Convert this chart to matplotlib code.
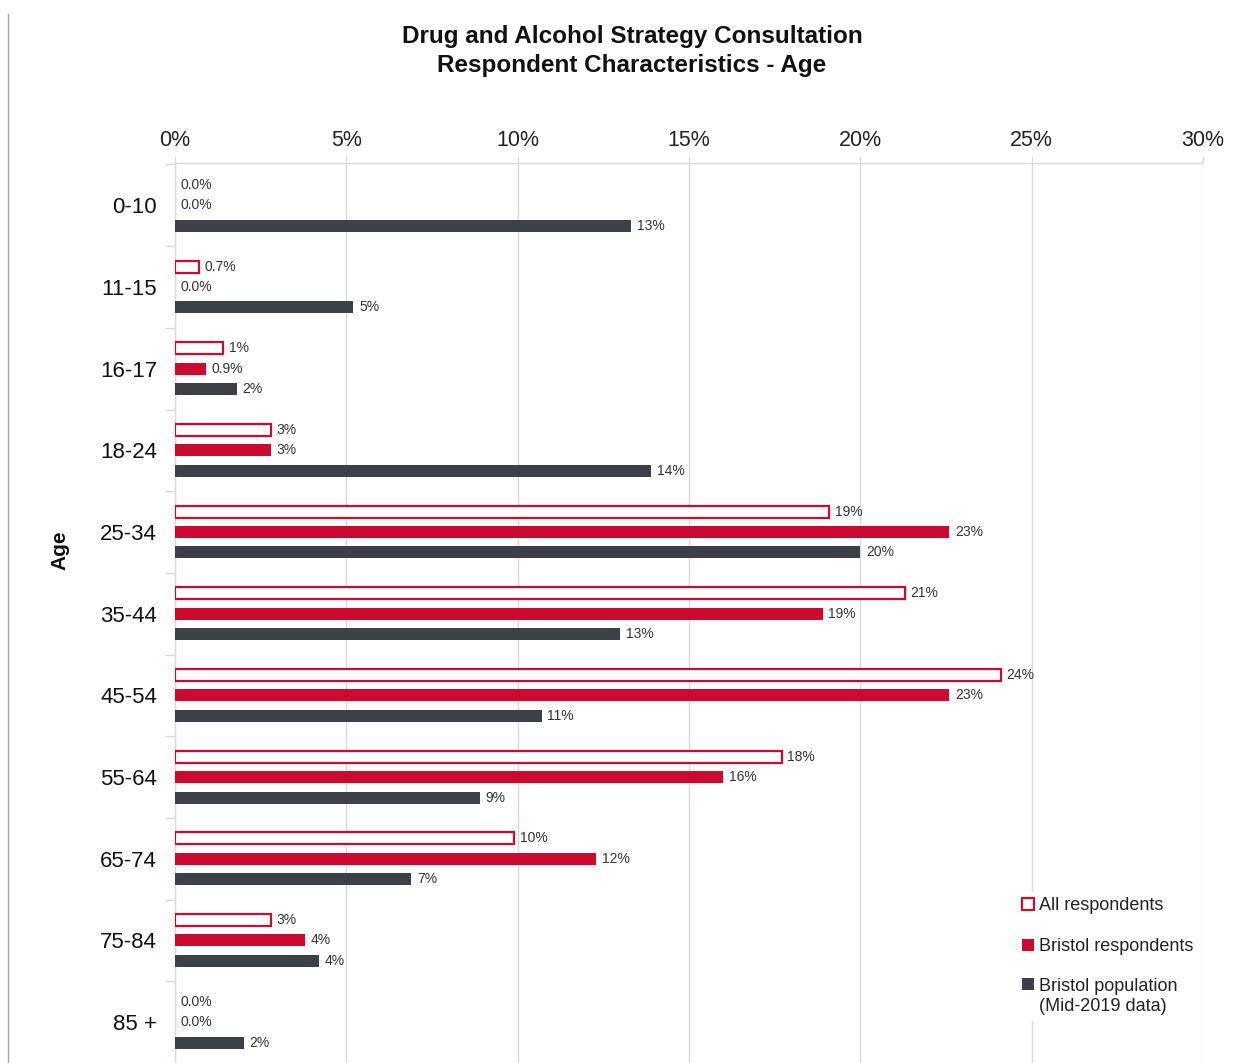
import matplotlib.pyplot as plt
from matplotlib.patches import Patch, Rectangle
from matplotlib.legend_handler import HandlerPatch
from matplotlib.lines import Line2D
import numpy as np

plt.rcParams['font.family'] = ['Liberation Sans', 'DejaVu Sans']

# Age groups and share of respondents / population (%)
age_groups = ['0-10', '11-15', '16-17', '18-24', '25-34', '35-44',
              '45-54', '55-64', '65-74', '75-84', '85 +']
all_respondents = [0.0, 0.7, 1.4, 2.8, 19.1, 21.3, 24.1, 17.7, 9.9, 2.8, 0.0]
bristol_respondents = [0.0, 0.0, 0.9, 2.8, 22.6, 18.9, 22.6, 16.0, 12.3, 3.8, 0.0]
bristol_population = [13.3, 5.2, 1.8, 13.9, 20.0, 13.0, 10.7, 8.9, 6.9, 4.2, 2.0]
x_ticks = [0, 5, 10, 15, 20, 25, 30]

RED = '#CC0A2F'
DARK = '#3C4047'
GRID = '#D9D9D9'
TEXT = '#333333'


def pct_label(v):
    return f'{v:.1f}%' if v < 1 else f'{v:.0f}%'


fig = plt.figure(figsize=(12.45, 10.63), dpi=100)
ax = fig.add_axes([175 / 1245, 0.0, (1203 - 175) / 1245, 1 - 163 / 1063])

y = np.arange(len(age_groups))
h = 0.147
off = 0.25

# outlined bars: no outline at all for empty groups
lw = [1.6 if v > 0 else 0 for v in all_respondents]
ax.barh(y - off, all_respondents, height=h, facecolor='white',
        edgecolor=RED, linewidth=lw, zorder=3)
ax.barh(y, bristol_respondents, height=h, color=RED, zorder=3)
ax.barh(y + off, bristol_population, height=h, color=DARK, zorder=3)

for series, dy in [(all_respondents, -off), (bristol_respondents, 0),
                   (bristol_population, off)]:
    for yi, v in zip(y, series):
        ax.text(v + 0.17, yi + dy, pct_label(v), va='center', ha='left',
                fontsize=10, color=TEXT, zorder=4)

ax.set_xlim(0, 30)
ax.set_ylim(len(age_groups) - 0.518, -0.518)

ax.xaxis.tick_top()
ax.set_xticks(x_ticks)
ax.set_xticklabels([f'{t}%' for t in x_ticks], fontsize=15.5, color='#222222')
ax.tick_params(axis='x', length=5, color=GRID, pad=4)
ax.grid(axis='x', color=GRID, linewidth=1, zorder=0)

# boundaries between groups carry the tick marks, labels sit at centres
ax.set_yticks(np.arange(-0.5, len(age_groups) + 0.5, 1))
ax.set_yticklabels([])
ax.set_yticks(y, minor=True)
ax.set_yticklabels(age_groups, minor=True, fontsize=16, color='#111111')
ax.tick_params(axis='y', which='major', length=7, color=GRID, width=1)
ax.tick_params(axis='y', which='minor', length=0, pad=13)

for side in ['right', 'bottom']:
    ax.spines[side].set_visible(False)
for side in ['top', 'left']:
    ax.spines[side].set_color(GRID)
    ax.spines[side].set_linewidth(1)

fig.text(632 / 1245, 1 - 51 / 1063,
         'Drug and Alcohol Strategy Consultation\nRespondent Characteristics - Age',
         ha='center', va='center', fontsize=17.5, fontweight='bold',
         linespacing=1.28, color='#111111')
fig.text(60 / 1245, 1 - 550 / 1063, 'Age', rotation=90, ha='center',
         va='center', fontsize=15, fontweight='bold', color='#111111')

# thin frame line down the left edge
fig.add_artist(Line2D([8 / 1245, 8 / 1245], [0, 1 - 14 / 1063],
                      transform=fig.transFigure, color='#A6A6A6', linewidth=1))


def top_line_patch(legend, orig_handle, xdescent, ydescent, width, height,
                   fontsize):
    # lift the swatch so it lines up with the first line of a two-line label
    return Rectangle((-xdescent, -ydescent + 9.5), width, height)


handles = [Patch(facecolor='white', edgecolor=RED, linewidth=1.6),
           Patch(facecolor=RED), Patch(facecolor=DARK)]
labels = ['All respondents', 'Bristol respondents',
          'Bristol population\n(Mid-2019 data)']
leg = ax.legend(handles, labels, loc='upper left',
                bbox_to_anchor=(1008 / 1245, 1 - 883 / 1063),
                bbox_transform=fig.transFigure, fontsize=13,
                handlelength=0.65, handleheight=0.65, handletextpad=0.25,
                labelspacing=1.3, frameon=True, framealpha=1,
                facecolor='white', edgecolor='white', borderpad=0.3,
                fancybox=False,
                handler_map={handles[2]: HandlerPatch(patch_func=top_line_patch)})
for t in leg.get_texts():
    t.set_color('#222222')
leg.set_zorder(5)

fig.savefig('out.png', dpi=100)
